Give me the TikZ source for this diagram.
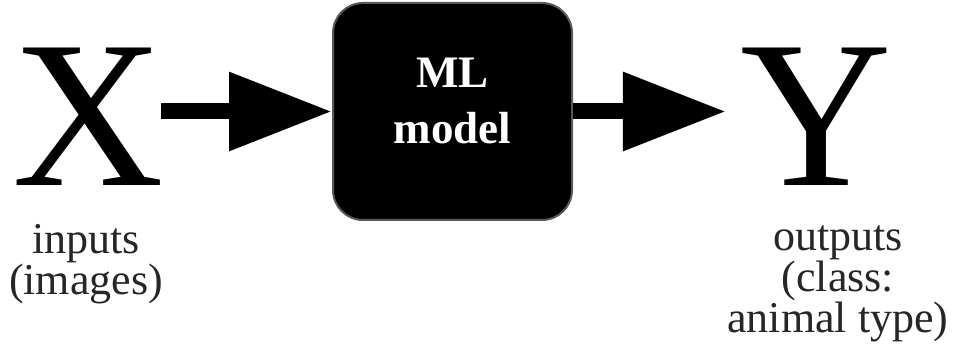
\documentclass[tikz,border=0pt]{standalone}
\usepackage{fontspec}
\setmainfont{Liberation Serif}
\usetikzlibrary{arrows.meta}
\begin{document}
\begin{tikzpicture}[x=1pt,y=-1pt,
  bigletter/.style={inner sep=0pt, anchor=base, font=\fontsize{210}{210}\selectfont},
  caption/.style={align=center, anchor=base, text=black!85, inner sep=0pt,
    font=\fontsize{44}{41}\selectfont},
  mlbox/.style={fill=black, draw=black!65, line width=2pt, rounded corners=30pt,
    minimum width=239pt, minimum height=217pt, text=white, align=center,
    text depth=22pt, font=\fontsize{45}{56}\selectfont\bfseries},
  flow/.style={line width=16pt, -{Triangle[length=103pt,width=75pt]}}
]
\useasboundingbox (0,0) rectangle (953,363);

% input, model, output
\node[bigletter] (X) at (88,186) {X};
\node[mlbox] (model) at (452.5,111.5) {ML\\model};
\node[bigletter] (Y) at (816,186) {Y};

% captions under the letters (anchored at the last baseline)
\node[caption] (xin) at (86,295) {inputs\\(images)};
\node[caption] (yout) at (838,333) {outputs\\(class:\\animal type)};

% data flow
\draw[flow] ([xshift=-3pt]X.east |- model.west) -- (model.west);
\draw[flow, shorten >=14pt] (model.east) -- (Y.west |- model.east);
\end{tikzpicture}
\end{document}
